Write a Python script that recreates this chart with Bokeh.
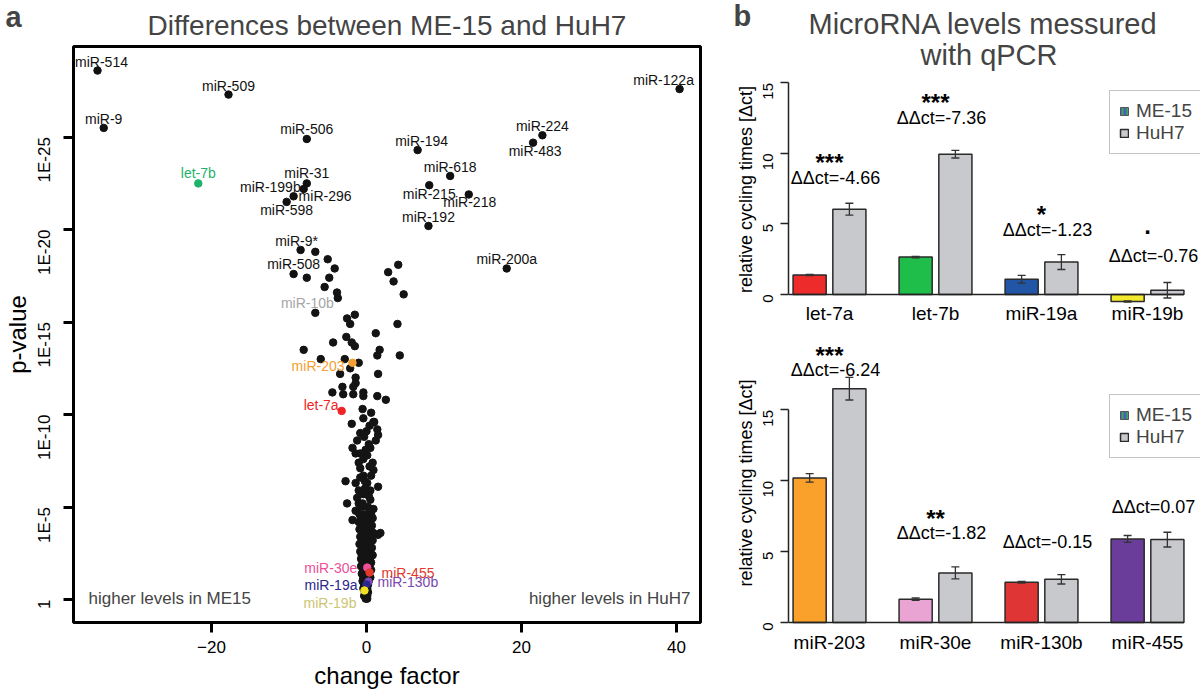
import numpy as np
from bokeh.plotting import figure
from bokeh.models import (ColumnDataSource, FixedTicker, Label, Legend, LegendItem,
                          Whisker, TeeHead, Title)
from bokeh.layouts import row, column
from bokeh.embed import file_html
from bokeh.resources import INLINE
from bokeh.core.properties import value

FONT = "Liberation Sans"

# ---------------- panel a: volcano plot (change factor vs -log10 p) ----------------
bg_x = [-6.6, -5.0, -4.1, -7.7, -4.8, -5.4, -3.8, 4.1, 2.8, 3.5, 4.8,
        -6.6, -2.5, -1.5, -2.1, 4.0, 1.2, -2.6, -1.9, -1.5, -4.3, -8.1, 1.7,
        1.4, 4.3, -5.9, -2.8, -1.0, -2.1, -1.4, -3.4, 1.5, -1.4, -1.7, -3.1,
        -4.4, -3.0, -1.7, -0.4, -0.4, 1.4, 2.5, -0.5, 0.6, -0.4, 1.0, -1.9, 0.4,
        0.9, 1.4, 1.5, -0.8, -1.2, 1.2, 0.5, -1.8, -1.4, -0.8, -0.4, 0.1,
        0.8, 0.9, -0.8, -0.4, -2.7, -1.4, -1.0, 0.1, 0.5, 1.5, -2.5, -1.2,
        -0.5, 0.5, 0.9, -1.4, 0.1, -1.8, 1.8, 1.5, -0.3, 0.3, -0.2, 0.3,
        -0.8, -0.6, 0.0, -1.0, 0.4, -0.2, -0.1, 0.6, -0.4, 0.2, -1.0,
        -0.9, -0.2, 0.6, -0.6, 0.2, 0.8, -1.0, -0.3, 0.4, -0.7, 0.0, 0.7,
        -0.9, -0.2, 0.5, -0.5, 0.2, 0.9, -0.8, -0.1, 0.6, -0.6, 0.1, 0.8,
        -0.9, -0.3, 0.4, -0.5, 0.2, 0.7, -0.8, -0.1, 0.5, -0.6, 0.1, 0.8,
        -0.7, -0.2, 0.4, -0.5, 0.1, 0.6, -0.7, -0.2, 0.4, -0.4, 0.2, 0.6,
        -0.6, -0.1, 0.3, -0.4, 0.1, 0.5, -0.5, -0.1, 0.3, -0.3, 0.2, -0.4, 0.1,
        -0.2, 0.2, -0.3, 0.1, -0.1, 0.1]
bg_y = [18.8, 18.4, 17.9, 17.4, 17.4, 16.9, 16.6, 18.1, 17.7, 17.2, 16.5,
        15.5, 15.2, 15.4, 14.9, 14.9, 14.4, 14.2, 13.9, 13.7, 13.9, 13.5, 13.5,
        13.2, 13.2, 13.0, 13.0, 12.8, 12.5, 12.0, 12.2, 12.2, 11.7, 11.5, 11.5,
        11.2, 11.1, 11.1, 11.2, 11.0, 11.0, 10.8, 10.3, 10.1, 9.8, 9.6, 9.5, 9.4,
        9.6, 9.2, 8.9, 9.0, 8.6, 8.6, 8.2, 8.2, 7.9, 7.9, 7.6, 7.8,
        7.4, 7.0, 7.1, 6.7, 6.4, 6.3, 5.9, 6.3, 5.9, 6.1, 5.2, 5.5,
        5.2, 5.4, 4.9, 4.8, 4.6, 4.3, 3.6, 3.5, 8.8, 8.4, 6.0, 5.6,
        6.6, 5.0, 9.1, 7.4, 7.2, 6.4, 8.1, 6.7, 5.7, 5.0, 5.2,
        4.6, 4.6, 4.6, 4.4, 4.4, 4.4, 4.2, 4.2, 4.2, 4.0, 4.0, 4.0,
        3.8, 3.8, 3.8, 3.6, 3.6, 3.6, 3.4, 3.4, 3.4, 3.2, 3.2, 3.2,
        3.0, 3.0, 3.0, 2.8, 2.8, 2.8, 2.6, 2.6, 2.6, 2.4, 2.4, 2.4,
        2.2, 2.2, 2.2, 2.0, 2.0, 2.0, 1.8, 1.8, 1.8, 1.6, 1.6, 1.6,
        1.4, 1.4, 1.4, 1.2, 1.2, 1.2, 1.0, 1.0, 1.0, 0.8, 0.8, 0.6, 0.6,
        0.4, 0.4, 0.2, 0.2, 0.05, 0.05]
assert len(bg_x) == len(bg_y)

mirna_names = ["miR-514", "miR-509", "miR-9", "miR-506", "let-7b", "miR-31", "miR-199b",
               "miR-296", "miR-598", "miR-9*", "miR-508", "miR-10b", "miR-203", "let-7a",
               "miR-30e", "miR-455", "miR-130b", "miR-19a", "miR-19b",
               "miR-122a", "miR-224", "miR-483", "miR-194", "miR-618", "miR-215",
               "miR-218", "miR-192", "miR-200a"]
mirna_change = [-34.7, -17.8, -33.9, -7.7, -21.7, -7.7, -8.1,
                -9.4, -10.3, -8.5, -9.4, -3.7, -1.8, -3.2,
                0.1, 0.4, 0.26, 0.0, -0.26,
                40.4, 22.7, 21.5, 6.6, 10.8, 8.1,
                13.2, 8.0, 18.1]
mirna_logp = [28.6, 27.3, 25.5, 24.9, 22.5, 22.5, 22.2,
              21.8, 21.5, 18.9, 17.6, 16.3, 12.8, 10.2,
              1.73, 1.46, 0.97, 0.81, 0.49,
              27.6, 25.1, 24.7, 24.3, 22.9, 22.4,
              21.9, 20.2, 17.9]

x_ticks_a = [-20, 0, 20, 40]
y_ticks_a = [0, 5, 10, 15, 20, 25]
y_tick_labels_a = ["1", "1E-5", "1E-10", "1E-15", "1E-20", "1E-25"]

# styles for labelled points: point colour, text colour, align, dx, dy (px)
label_style = {
    "miR-514": ("#111111", "#111111", "center", 4, -9),
    "miR-509": ("#111111", "#111111", "center", 0, -9),
    "miR-9": ("#111111", "#111111", "center", 0, -9),
    "miR-506": ("#111111", "#111111", "center", 0, -10),
    "let-7b": ("#1db36a", "#1db36a", "center", 0, -10),
    "miR-31": ("#111111", "#111111", "center", 0, -10),
    "miR-199b": ("#111111", "#111111", "right", -3, -2),
    "miR-296": ("#111111", "#111111", "left", 5, 0),
    "miR-598": ("#111111", "#111111", "center", 0, 8),
    "miR-9*": ("#111111", "#111111", "center", -4, -9),
    "miR-508": ("#111111", "#111111", "center", 0, -10),
    "miR-10b": ("#111111", "#a6a6a6", "right", -4, 5),
    "miR-203": ("#f5a030", "#f5a030", "right", -8, 3),
    "let-7a": ("#f02424", "#f02424", "right", -3, -6),
    "miR-30e": ("#ee4f98", "#ee4f98", "right", -10, 0),
    "miR-455": ("#e0392c", "#e0392c", "left", 12, 0),
    "miR-130b": ("#7a48b0", "#7a48b0", "left", 9, 0),
    "miR-19a": ("#2a2888", "#2a2888", "right", -9, 0),
    "miR-19b": ("#f0e020", "#cdc574", "right", -8, 12),
    "miR-122a": ("#111111", "#111111", "center", -16, -9),
    "miR-224": ("#111111", "#111111", "center", 0, -9),
    "miR-483": ("#111111", "#111111", "center", 2, 8),
    "miR-194": ("#111111", "#111111", "center", 4, -9),
    "miR-618": ("#111111", "#111111", "center", 0, -9),
    "miR-215": ("#111111", "#111111", "center", 0, 9),
    "miR-218": ("#111111", "#111111", "center", 1, 8),
    "miR-192": ("#111111", "#111111", "center", 0, -9),
    "miR-200a": ("#111111", "#111111", "center", 0, -9),
}

# ---------------- panel b: qPCR bars ----------------
top_cats = ["let-7a", "let-7b", "miR-19a", "miR-19b"]
top_me15 = [1.38, 2.65, 1.08, -0.5]
top_me15_err = [0.05, 0.05, 0.28, 0.04]
top_huh7 = [6.05, 9.95, 2.3, 0.3]
top_huh7_err = [0.42, 0.27, 0.53, 0.55]
top_ddct = ["ΔΔct=-4.66", "ΔΔct=-7.36", "ΔΔct=-1.23", "ΔΔct=-0.76"]
top_sig = ["***", "***", "*", "."]
top_me15_colors = ["#ee2b2b", "#1fbd4a", "#2155a6", "#f3ea2c"]

bot_cats = ["miR-203", "miR-30e", "miR-130b", "miR-455"]
bot_me15 = [10.2, 1.65, 2.85, 5.9]
bot_me15_err = [0.3, 0.08, 0.06, 0.24]
bot_huh7 = [16.5, 3.5, 3.05, 5.85]
bot_huh7_err = [0.8, 0.42, 0.33, 0.52]
bot_ddct = ["ΔΔct=-6.24", "ΔΔct=-1.82", "ΔΔct=-0.15", "ΔΔct=0.07"]
bot_sig = ["***", "**", "", ""]
bot_me15_colors = ["#f9a12b", "#eaa4d4", "#e03535", "#6a3d9a"]

bar_y_ticks = [0, 5, 10, 15]
HUH7_COLOR = "#c8c9cd"

# annotation placement (data y of text baselines)
top_ddct_y = [8.25, 12.5, 4.56, 2.72]
top_sig_y = [9.35, 13.6, 5.66, 4.9]
bot_ddct_y = [17.85, 6.35, 5.65, 8.18]
bot_sig_y = [18.85, 7.34, 0, 0]

GROUP_STEP = 16
BAR_W = 5
PAIR_OFF = 3
groups = [GROUP_STEP * i for i in range(4)]
X_RANGE_B = (-6.19, 56.0)


# ---------------- build panel a ----------------
pa = figure(width=730, height=694, x_range=(-37.8, 43.1), y_range=(-1.24, 29.9),
            output_backend="svg", toolbar_location=None,
            min_border_left=73, min_border_right=30, min_border_top=46, min_border_bottom=72,
            title="a")
# panel letter (outermost title row)
pa.title.align = "left"
pa.title.offset = -68
pa.title.vertical_align = "bottom"
pa.title.standoff = -62
pa.title.text_font = FONT
pa.title.text_font_size = "29px"
pa.title.text_font_style = "bold"
# main title
pa.add_layout(Title(text="Differences between ME-15 and HuH7", align="center",
                    text_font=FONT, text_font_size="28px", text_font_style="normal",
                    standoff=12), "above")
pa.outline_line_color = "black"
pa.outline_line_width = 3
pa.xgrid.visible = False
pa.ygrid.visible = False
for ax in (pa.xaxis[0], pa.yaxis[0]):
    ax.axis_line_color = None
    ax.major_tick_line_width = 3
    ax.major_tick_line_color = "black"
    ax.major_tick_in = 0
    ax.major_tick_out = 10
    ax.minor_tick_line_color = None
    ax.major_label_text_font = FONT
    ax.major_label_text_font_size = "17px"
    ax.major_label_text_color = "black"
    ax.axis_label_text_font = FONT
    ax.axis_label_text_font_size = "24px"
    ax.axis_label_text_font_style = "normal"
    ax.axis_label_text_color = "black"
pa.xaxis.major_label_standoff = 8
pa.xaxis.axis_label_standoff = 6
pa.yaxis.major_label_standoff = 19
pa.yaxis.axis_label_standoff = -8
pa.xaxis.ticker = FixedTicker(ticks=x_ticks_a)
pa.yaxis.ticker = FixedTicker(ticks=y_ticks_a)
pa.yaxis.major_label_overrides = dict(zip(y_ticks_a, y_tick_labels_a))
pa.yaxis.major_label_orientation = np.pi / 2
pa.xaxis.axis_label = "change factor"
pa.yaxis.axis_label = "p-value"

pa.scatter(bg_x, bg_y, size=7.5, color="#141414")

lab_src = ColumnDataSource(dict(
    x=mirna_change, y=mirna_logp, name=mirna_names,
    pc=[label_style[n][0] for n in mirna_names],
    tc=[label_style[n][1] for n in mirna_names],
    align=[label_style[n][2] for n in mirna_names],
    dx=[label_style[n][3] for n in mirna_names],
    dy=[label_style[n][4] for n in mirna_names],
))
pa.scatter("x", "y", size=7.5, color="pc", source=lab_src)
pa.text("x", "y", text="name", text_color="tc", text_align="align", text_baseline="middle",
        x_offset="dx", y_offset="dy", text_font=value(FONT), text_font_size="14px",
        source=lab_src)

frame_w_a = 730 - 73 - 30
pa.add_layout(Label(x=15, y=24, x_units="screen", y_units="screen",
                    text="higher levels in ME15", text_font=FONT, text_font_size="17px",
                    text_baseline="middle", text_align="left"))
pa.add_layout(Label(x=frame_w_a - 10, y=24, x_units="screen", y_units="screen",
                    text="higher levels in HuH7", text_font=FONT, text_font_size="17px",
                    text_baseline="middle", text_align="right"))


# ---------------- build panel b ----------------
def bar_panel(height, y_range, mtop, mbottom, xstandoff, cats, me_vals, me_err, hu_vals,
              hu_err, me_colors, ddct, ddct_y, sig, sig_y, legend_y, title=None):
    p = figure(width=470, height=height, x_range=X_RANGE_B, y_range=y_range,
               output_backend="svg", toolbar_location=None, title=title,
               min_border_left=58, min_border_right=0, min_border_top=mtop,
               min_border_bottom=mbottom)
    p.xgrid.visible = False
    p.ygrid.visible = False
    p.outline_line_color = None

    ya = p.yaxis[0]
    ya.bounds = (0, 15)
    ya.ticker = FixedTicker(ticks=bar_y_ticks)
    ya.axis_line_width = 1.5
    ya.axis_line_color = "#222222"
    ya.major_tick_out = 8
    ya.major_tick_in = 0
    ya.major_tick_line_width = 1.5
    ya.major_tick_line_color = "#222222"
    ya.minor_tick_line_color = None
    ya.major_label_orientation = np.pi / 2
    ya.major_label_text_font = FONT
    ya.major_label_text_font_size = "15px"
    ya.major_label_text_color = "black"
    ya.major_label_standoff = 12
    ya.axis_label = "relative cycling times [Δct]"
    ya.axis_label_text_font = FONT
    ya.axis_label_text_font_size = "18px"
    ya.axis_label_text_font_style = "normal"
    ya.axis_label_text_color = "black"
    ya.axis_label_standoff = 0

    xa = p.xaxis[0]
    xa.ticker = FixedTicker(ticks=groups)
    xa.major_label_overrides = dict(zip(groups, cats))
    xa.axis_line_color = None
    xa.major_tick_line_color = None
    xa.minor_tick_line_color = None
    xa.major_label_text_font = FONT
    xa.major_label_text_font_size = "19px"
    xa.major_label_text_color = "black"
    xa.major_label_standoff = xstandoff

    me_x = [g - PAIR_OFF for g in groups]
    hu_x = [g + PAIR_OFF for g in groups]
    src_me = ColumnDataSource(dict(x=me_x, top=me_vals, color=me_colors,
                                   upper=[v + e for v, e in zip(me_vals, me_err)],
                                   lower=[v - e for v, e in zip(me_vals, me_err)]))
    src_hu = ColumnDataSource(dict(x=hu_x, top=hu_vals,
                                   upper=[v + e for v, e in zip(hu_vals, hu_err)],
                                   lower=[v - e for v, e in zip(hu_vals, hu_err)]))
    p.vbar(x="x", top="top", width=BAR_W, fill_color="color", line_color="#2a2a2a",
           line_width=1.5, source=src_me)
    r_hu = p.vbar(x="x", top="top", width=BAR_W, fill_color=HUH7_COLOR, line_color="#2a2a2a",
                  line_width=1.5, source=src_hu)
    last_right = max(hu_x) + BAR_W / 2
    p.segment(x0=[X_RANGE_B[0]], y0=[0], x1=[last_right], y1=[0],
              line_color="#222222", line_width=1.5)
    for src in (src_me, src_hu):
        p.add_layout(Whisker(base="x", upper="upper", lower="lower", source=src,
                             line_color="#333333", line_width=1.3, level="overlay",
                             upper_head=TeeHead(size=8, line_color="#333333", line_width=1.3),
                             lower_head=TeeHead(size=8, line_color="#333333", line_width=1.3)))

    p.text(x=groups, y=ddct_y, text=ddct, x_offset=6, text_align="center",
           text_baseline="alphabetic", text_font=value(FONT), text_font_size="18px",
           text_color="black")
    p.text(x=groups, y=sig_y, text=sig, text_align="center", text_baseline="alphabetic",
           text_font=value(FONT), text_font_size="24px", text_font_style="bold",
           text_color="black")

    # legend swatch for the multi-coloured ME-15 series
    me_dummy = p.vbar(x=[float("nan")], top=[float("nan")], width=BAR_W,
                      fill_color="#4b63b8", line_color="#555555",
                      hatch_pattern="|", hatch_color="#3cb04a", hatch_weight=1.5,
                      hatch_scale=5)
    legend = Legend(items=[LegendItem(label="ME-15", renderers=[me_dummy]),
                           LegendItem(label="HuH7", renderers=[r_hu])],
                    location=(321, legend_y))
    legend.label_text_font = FONT
    legend.label_text_font_size = "19px"
    legend.label_height = 19
    legend.glyph_height = 10
    legend.glyph_width = 10
    legend.label_standoff = 7
    legend.padding = 9
    legend.spacing = 0
    legend.margin = 0
    legend.border_line_color = "#8a8a8a"
    legend.border_line_width = 1.5
    legend.background_fill_color = "white"
    legend.background_fill_alpha = 1
    p.add_layout(legend, "center")
    return p


pb1 = bar_panel(330, (-0.64, 15.53), 75, 27, -7, top_cats, top_me15, top_me15_err,
                top_huh7, top_huh7_err, top_me15_colors, top_ddct, top_ddct_y,
                top_sig, top_sig_y, 149, title="b")
pb1.add_layout(Title(text="with qPCR", align="left", offset=132, text_font=FONT,
                     text_font_size="29px", text_font_style="normal", standoff=10), "above")
pb1.add_layout(Title(text="MicroRNA levels messured", align="left", offset=20, text_font=FONT,
                     text_font_size="29px", text_font_style="normal", standoff=-16), "above")
# panel letter (outermost title row)
pb1.title.align = "left"
pb1.title.offset = -55
pb1.title.vertical_align = "bottom"
pb1.title.standoff = -36
pb1.title.text_font = FONT
pb1.title.text_font_size = "29px"
pb1.title.text_font_style = "bold"

pb2 = bar_panel(364, (-0.21, 19.9), 10, 69, 0, bot_cats, bot_me15, bot_me15_err,
                bot_huh7, bot_huh7_err, bot_me15_colors, bot_ddct, bot_ddct_y,
                bot_sig, bot_sig_y, 167)

layout = row(pa, column(pb1, pb2))
open("out.html", "w").write(file_html(layout, INLINE))
